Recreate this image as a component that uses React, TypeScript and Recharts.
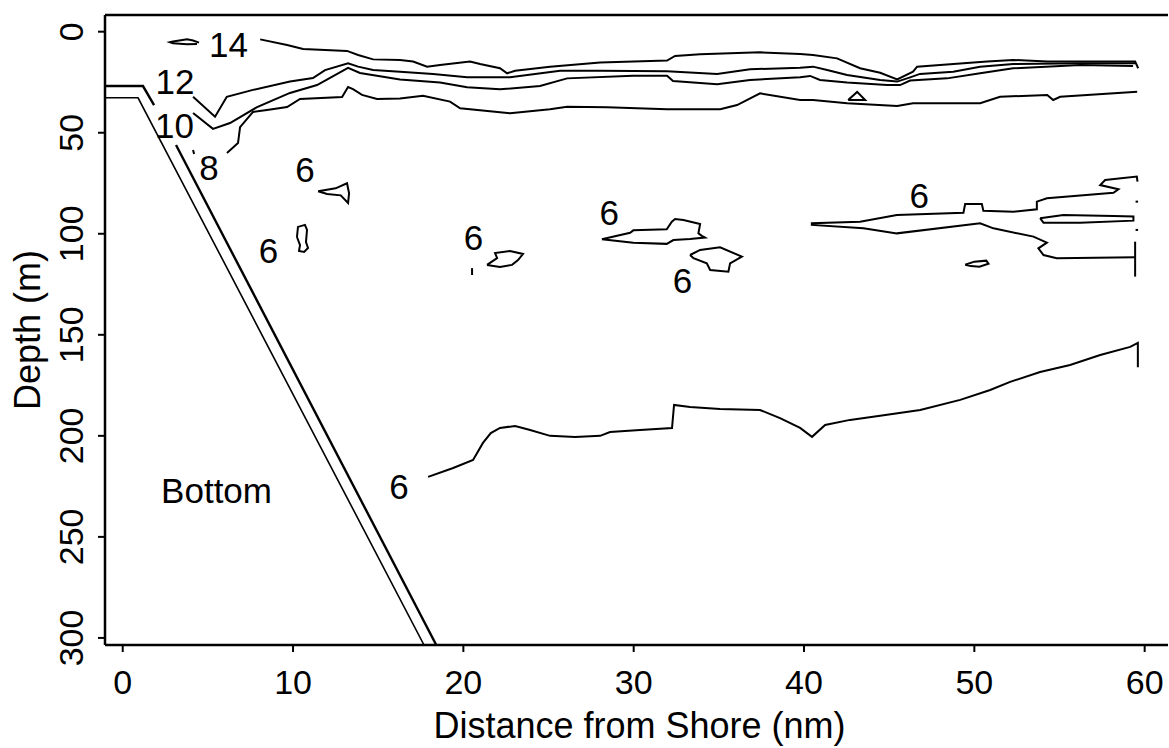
import { ComposedChart, Line, XAxis, YAxis, ReferenceLine, ReferenceDot, Label } from "recharts";

type Pt = { x: number; d: number };

const FONT = "'Liberation Sans', Arial, Helvetica, sans-serif";

// axes (distance in nm, depth in m)
const xTicks = [0, 10, 20, 30, 40, 50, 60];
const yTicks = [0, 50, 100, 150, 200, 250, 300];
const xDomain: [number, number] = [-1.04, 61.37];
const yDomain: [number, number] = [-8.26, 303.5];

// sea floor, drawn as two lines
const bottomUpperA = [[-1.04, 26.9], [1.19, 26.9], [1.84, 36.3]];
const bottomUpperB = [[3.13, 56.1], [18.41, 303.5]];
const bottomLower = [[-1.04, 32.7], [0.9, 32.7], [17.69, 303.5]];

// isotherms near the surface
const iso14 = [[8.07, 3.8], [9.65, 6.6], [10.59, 8.6], [13.17, 9.5], [13.82, 11.5], [14.7, 13.7], [16.28, 14.0], [17.05, 14.8], [17.87, 17.3], [18.63, 16.5], [20.39, 14.8], [20.98, 16.0], [22.15, 18.1], [22.57, 20.6], [23.04, 19.3], [25.09, 17.3], [28.03, 15.3], [31.96, 14.3], [32.43, 12.0], [33.9, 11.2], [37.42, 10.2], [39.77, 11.0], [40.53, 11.5], [41.94, 13.2], [43.29, 18.1], [44.47, 20.3], [45.47, 23.6], [46.4, 19.8], [46.64, 17.3], [47.99, 16.5], [50.75, 14.8], [52.28, 14.0], [54.28, 14.8], [59.44, 14.8], [59.62, 18.1]];
const iso14Loop = [[4.48, 5.4], [4.13, 4.4], [3.78, 3.8], [2.95, 4.9], [2.78, 5.2], [2.95, 5.7], [3.78, 6.2], [4.36, 6.1]];
const iso12 = [[4.13, 32.2], [5.42, 42.1], [6.11, 32.2], [7.65, 28.8], [9.82, 24.7], [11.17, 22.9], [11.88, 19.0], [13.23, 15.6], [13.82, 17.3], [14.7, 19.0], [16.28, 19.8], [18.22, 20.9], [20.22, 22.6], [22.74, 22.6], [25.68, 19.3], [28.03, 19.3], [31.96, 19.6], [34.9, 20.9], [36.83, 18.6], [39.77, 17.8], [40.53, 17.3], [41.36, 19.0], [42.53, 21.4], [44.47, 23.9], [45.47, 24.7], [46.23, 22.6], [46.81, 20.9], [48.76, 19.8], [50.34, 17.3], [52.28, 16.0], [56.22, 15.6], [59.44, 15.6]];
const iso10 = [[4.13, 40.2], [5.3, 48.1], [6.3, 45.2], [7.89, 37.3], [9.82, 30.3], [11.41, 26.4], [13.23, 17.9], [13.93, 20.4], [16.28, 23.6], [18.63, 25.2], [20.22, 27.5], [22.15, 28.5], [24.5, 26.9], [26.09, 23.1], [29.96, 21.8], [31.96, 21.8], [32.31, 24.4], [34.9, 26.0], [36.83, 23.9], [39.77, 22.6], [40.36, 21.9], [40.94, 23.9], [42.53, 25.2], [44.88, 26.4], [45.64, 26.4], [46.23, 24.2], [48.4, 23.1], [50.34, 20.6], [52.28, 18.1], [56.22, 16.5], [59.32, 17.0]];
const iso8 = [[6.12, 60.0], [6.77, 55.1], [6.89, 47.2], [7.65, 39.7], [8.47, 38.7], [9.65, 37.3], [10.41, 33.3], [12.88, 32.3], [13.23, 27.4], [13.52, 28.4], [14.05, 31.3], [14.93, 33.3], [16.28, 33.0], [17.63, 31.7], [19.22, 34.6], [19.81, 37.9], [22.74, 40.4], [25.09, 38.4], [26.09, 37.1], [28.44, 37.4], [31.96, 38.4], [35.08, 38.4], [36.07, 36.3], [37.42, 30.5], [39.77, 33.8], [40.53, 33.8], [42.53, 35.4], [45.47, 36.8], [46.4, 35.4], [50.34, 35.4], [51.51, 32.2], [54.28, 31.3], [54.63, 33.8], [55.04, 32.2], [59.56, 29.7]];
const iso8Tick = [[4.13, 58.5], [4.19, 60.5]];
const iso8Tri = [[42.59, 33.8], [43.12, 29.8], [43.59, 33.8], [42.59, 33.8]];

// 6 degree patches
const iso6Tri = [[11.47, 79.0], [12.5, 77.5], [13.17, 75.0], [13.29, 80.0], [13.23, 84.8], [12.8, 81.0], [12.0, 80.3], [11.47, 79.0]];
const iso6Blob10 = [[10.23, 101.6], [10.29, 96.6], [10.7, 95.6], [10.82, 98.1], [10.76, 104.1], [10.88, 107.0], [10.65, 109.0], [10.35, 108.5], [10.41, 105.6], [10.23, 101.6]];
const iso6Blob22 = [[21.39, 115.4], [21.98, 112.0], [21.86, 109.5], [22.74, 108.5], [23.5, 110.0], [23.21, 113.0], [22.86, 115.4], [22.15, 116.4], [21.39, 115.4]];
const iso6Tick20 = [[20.51, 117.0], [20.51, 120.4]];
const iso6Loop30 = [[28.13, 102.7], [29.79, 99.5], [29.98, 98.3], [31.94, 97.8], [32.24, 94.0], [32.43, 92.7], [32.92, 93.2], [33.9, 95.2], [33.8, 99.8], [34.0, 101.0], [34.19, 101.9], [33.31, 102.6], [32.33, 103.1], [31.94, 105.0], [29.98, 104.4], [28.13, 102.7]];
const iso6Blob35 = [[33.31, 110.5], [33.9, 108.0], [35.07, 106.7], [36.35, 111.3], [35.66, 114.6], [35.56, 118.8], [34.49, 117.9], [34.29, 114.6], [33.51, 112.1], [33.31, 110.5]];
const iso6Right = [[59.58, 74.2], [59.54, 71.7], [57.68, 73.4], [57.39, 75.9], [58.46, 78.0], [58.17, 79.7], [54.26, 82.4], [53.67, 84.1], [53.67, 87.9], [52.3, 89.1], [50.53, 88.6], [50.44, 85.3], [49.46, 85.3], [49.36, 89.6], [45.45, 90.7], [43.29, 94.0], [40.46, 94.8], [40.46, 95.6], [43.49, 97.3], [45.45, 99.8], [50.34, 94.8], [51.12, 97.3], [53.47, 101.4], [54.26, 104.4], [53.76, 107.2], [54.06, 110.5], [54.84, 112.1], [59.44, 111.6]];
const iso6RightEdge = [[59.44, 103.9], [59.44, 121.2]];
const iso6Inner = [[53.86, 92.3], [55.23, 90.7], [58.17, 91.2], [59.34, 91.5], [59.34, 93.5], [56.21, 94.5], [54.06, 94.5], [53.86, 92.3]];
const iso6Ellipse = [[49.46, 115.3], [50.0, 113.8], [50.7, 113.3], [50.83, 114.8], [50.3, 116.3], [49.8, 116.0], [49.46, 115.3]];
const iso6Dot1 = [[59.54, 83.6], [59.54, 84.6]];
const iso6Dot2 = [[59.54, 97.6], [59.54, 98.6]];
const iso6Deep = [[17.93, 220.3], [19.4, 215.9], [20.57, 211.9], [21.15, 203.5], [21.61, 198.6], [22.15, 196.1], [23.04, 195.1], [23.92, 197.1], [25.09, 200.0], [26.56, 200.6], [28.03, 200.0], [28.61, 198.1], [30.37, 197.1], [32.25, 196.1], [32.37, 184.7], [33.31, 185.7], [35.07, 186.7], [37.42, 187.2], [38.59, 191.2], [39.77, 196.1], [40.47, 200.5], [41.24, 194.6], [42.7, 192.1], [44.47, 190.1], [46.82, 187.2], [49.17, 182.2], [50.93, 177.3], [52.1, 173.3], [53.86, 168.4], [55.62, 164.9], [57.39, 160.0], [59.15, 156.0], [59.6, 154.0], [59.6, 166.0]];

const contours: { pts: number[][]; w: number }[] = [
  { pts: bottomUpperA, w: 2.4 },
  { pts: bottomUpperB, w: 2.4 },
  { pts: bottomLower, w: 1.6 },
  { pts: iso14, w: 2 },
  { pts: iso14Loop, w: 2 },
  { pts: iso12, w: 2 },
  { pts: iso10, w: 2 },
  { pts: iso8, w: 2 },
  { pts: iso8Tick, w: 2 },
  { pts: iso8Tri, w: 2 },
  { pts: iso6Tri, w: 2 },
  { pts: iso6Blob10, w: 2 },
  { pts: iso6Blob22, w: 2 },
  { pts: iso6Tick20, w: 2 },
  { pts: iso6Loop30, w: 2 },
  { pts: iso6Blob35, w: 2 },
  { pts: iso6Right, w: 2 },
  { pts: iso6RightEdge, w: 2 },
  { pts: iso6Inner, w: 2 },
  { pts: iso6Ellipse, w: 2 },
  { pts: iso6Dot1, w: 2.5 },
  { pts: iso6Dot2, w: 2.5 },
  { pts: iso6Deep, w: 2 },
];

const labelText = ["14", "12", "10", "8", "6", "6", "6", "6", "6", "6", "6", "Bottom"];
const labelX = [6.21, 3.07, 3.04, 5.07, 10.7, 8.56, 20.6, 28.56, 32.87, 46.76, 16.22, 5.51];
const labelD = [6.3, 24.6, 46.2, 67.2, 68.2, 108.3, 101.8, 89.5, 123.1, 80.8, 225.0, 226.8];

const toPts = (a: number[][]): Pt[] => a.map(([x, d]) => ({ x, d }));

const XTick = (props: any) => {
  const { x, y, payload } = props;
  return (
    <text x={x} y={y + 40} textAnchor="middle" fontSize={34} fontFamily={FONT} fill="#000">
      {payload.value}
    </text>
  );
};

const YTick = (props: any) => {
  const { x, y, payload } = props;
  const bx = x - 13;
  return (
    <text x={bx} y={y} transform={`rotate(-90, ${bx}, ${y})`} textAnchor="middle" fontSize={34} fontFamily={FONT} fill="#000">
      {payload.value}
    </text>
  );
};

export default function App() {
  return (
    <div style={{ position: "fixed", left: 0, top: 0, width: 1169, height: 748, background: "#fff", overflow: "hidden" }}>
      <ComposedChart width={1169} height={748} margin={{ top: 15, right: 1, bottom: 0, left: 0 }}>
        <XAxis
          dataKey="x"
          type="number"
          domain={xDomain}
          allowDataOverflow
          ticks={xTicks}
          tick={<XTick />}
          tickSize={7}
          height={103}
          axisLine={{ stroke: "#000", strokeWidth: 2.5 }}
          tickLine={{ stroke: "#000", strokeWidth: 2 }}
        >
          <Label
            content={(p: any) => {
              const vb = p.viewBox;
              return (
                <text x={vb.x + vb.width / 2 + 3} y={vb.y + 93} textAnchor="middle" fontSize={36} fontFamily={FONT} fill="#000">
                  Distance from Shore (nm)
                </text>
              );
            }}
          />
        </XAxis>
        <YAxis
          dataKey="d"
          type="number"
          reversed
          domain={yDomain}
          allowDataOverflow
          ticks={yTicks}
          tick={<YTick />}
          tickSize={7}
          width={105}
          axisLine={{ stroke: "#000", strokeWidth: 2.5 }}
          tickLine={{ stroke: "#000", strokeWidth: 2 }}
        >
          <Label
            content={(p: any) => {
              const vb = p.viewBox;
              const cy = vb.y + vb.height / 2;
              return (
                <text x={40} y={cy} transform={`rotate(-90, 40, ${cy})`} textAnchor="middle" fontSize={36} fontFamily={FONT} fill="#000">
                  Depth (m)
                </text>
              );
            }}
          />
        </YAxis>
        <ReferenceLine y={yDomain[0]} stroke="#000" strokeWidth={2.5} />
        {contours.map((c, i) => (
          <Line
            key={i}
            data={toPts(c.pts)}
            dataKey="d"
            type="linear"
            stroke="#000"
            strokeWidth={c.w}
            dot={false}
            activeDot={false}
            isAnimationActive={false}
          />
        ))}
        {labelText.map((t, i) => (
          <ReferenceDot
            key={`l${i}`}
            x={labelX[i]}
            y={labelD[i]}
            r={0}
            shape={(p: any) => (
              <text x={p.cx} y={p.cy} dy="0.36em" textAnchor="middle" fontSize={35} fontFamily={FONT} fill="#000">
                {t}
              </text>
            )}
          />
        ))}
      </ComposedChart>
    </div>
  );
}
